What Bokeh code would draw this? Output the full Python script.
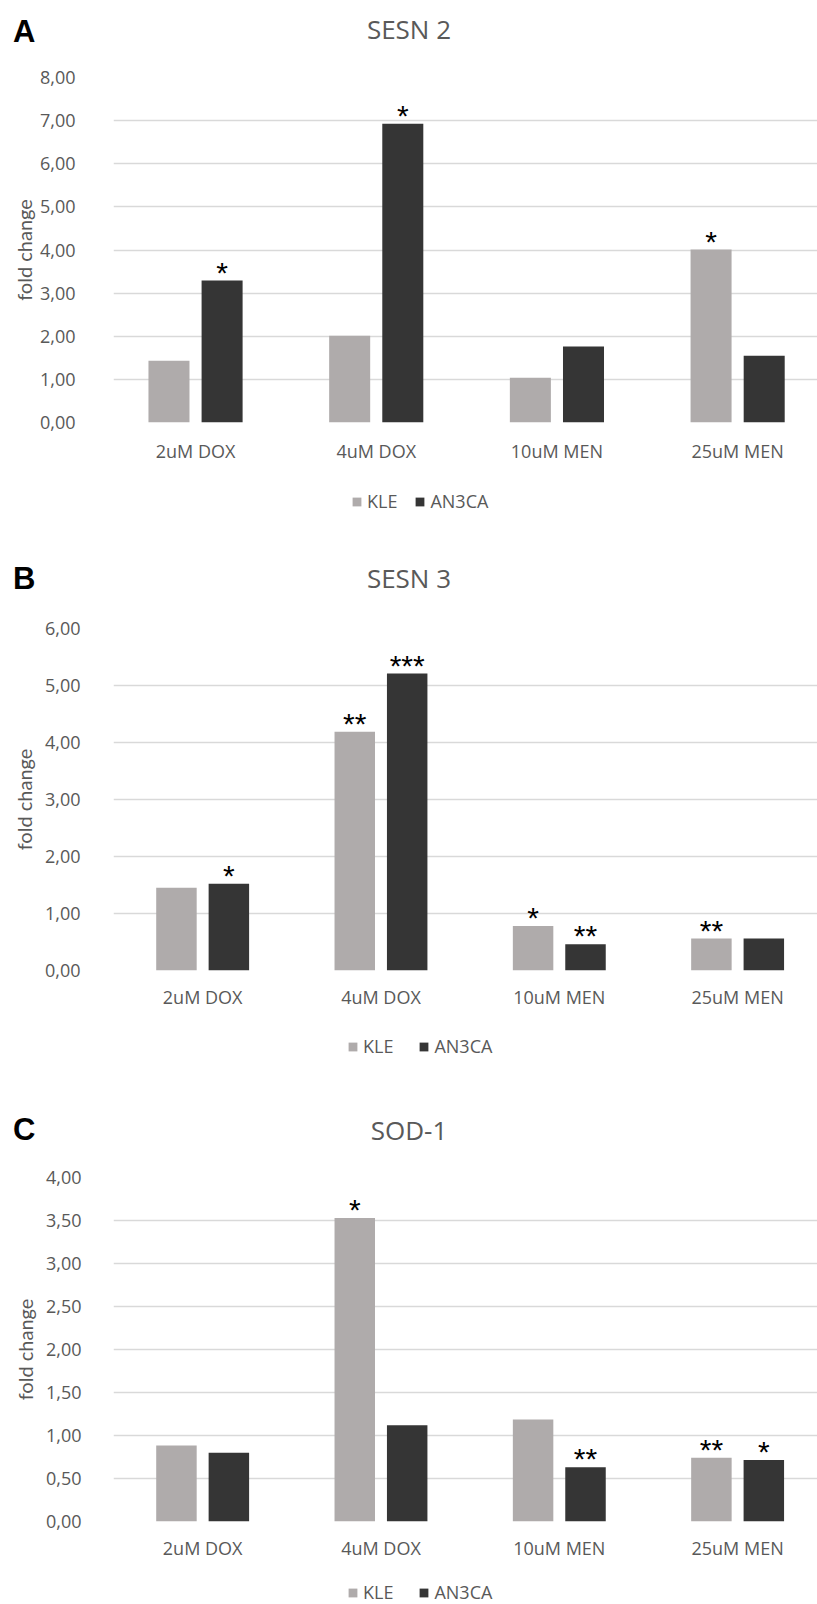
import numpy as np
from bokeh.plotting import figure
from bokeh.models import ColumnDataSource, Range1d, FixedTicker, Legend, LegendItem, Div
from bokeh.layouts import column
from bokeh.embed import file_html
from bokeh.resources import INLINE
from bokeh.core.properties import value

# ---------------- data ----------------
categories = ["2uM DOX", "4uM DOX", "10uM MEN", "25uM MEN"]
series = ["KLE", "AN3CA"]

sesn2_kle = [1.43, 2.01, 1.04, 4.01]
sesn2_an3ca = [3.29, 6.93, 1.76, 1.55]
sesn2_kle_sig = ["", "", "", "*"]
sesn2_an3ca_sig = ["*", "*", "", ""]
sesn2_ticks = [0, 1, 2, 3, 4, 5, 6, 7, 8]
sesn2_tick_labels = ["0,00", "1,00", "2,00", "3,00", "4,00", "5,00", "6,00", "7,00", "8,00"]

sesn3_kle = [1.45, 4.19, 0.78, 0.56]
sesn3_an3ca = [1.52, 5.21, 0.46, 0.56]
sesn3_kle_sig = ["", "**", "*", "**"]
sesn3_an3ca_sig = ["*", "***", "**", ""]
sesn3_ticks = [0, 1, 2, 3, 4, 5, 6]
sesn3_tick_labels = ["0,00", "1,00", "2,00", "3,00", "4,00", "5,00", "6,00"]

sod1_kle = [0.885, 3.53, 1.185, 0.74]
sod1_an3ca = [0.80, 1.12, 0.63, 0.715]
sod1_kle_sig = ["", "*", "", "**"]
sod1_an3ca_sig = ["", "", "**", "*"]
sod1_ticks = [0, 0.5, 1, 1.5, 2, 2.5, 3, 3.5, 4]
sod1_tick_labels = ["0,00", "0,50", "1,00", "1,50", "2,00", "2,50", "3,00", "3,50", "4,00"]

KLE_COLOR = "#AFABAB"
AN3CA_COLOR = "#353535"
TEXT_GREY = "#595959"
GRID_GREY = "#D9D9D9"
TICK_FONT = "Open Sans"
COLORS = [KLE_COLOR, AN3CA_COLOR]

BAR_W = 0.227
OFFSET = 0.147
FIG_W = 817
BORDER_TOP = 16
BORDER_BOTTOM = 60
BORDER_LEFT = 113   # frames of all plots in the column share this left edge


def header(letter, title, height, letter_top, title_top):
    html = (
        f'<div style="position:relative;width:{FIG_W}px;height:{height}px;overflow:hidden;">'
        f'<span style="position:absolute;left:13px;top:{letter_top}px;'
        f"font-family:'Liberation Sans';font-weight:bold;font-size:31px;"
        f'line-height:1;color:#000000;">{letter}</span>'
        f'<span style="position:absolute;left:0px;top:{title_top}px;width:818px;'
        f"text-align:center;font-family:'Open Sans';font-size:26px;line-height:1;"
        f'color:{TEXT_GREY};white-space:nowrap;">{title}</span>'
        '</div>')
    return Div(text=html, width=FIG_W, height=height, margin=(0, 0, 0, 0))


def panel(kle, an3, kle_sig, an3_sig, ticks, tick_labels, ymax,
          plot_px, x_start, x_end, ystandoff, label_standoff, xstandoff):
    height = BORDER_TOP + plot_px + BORDER_BOTTOM
    p = figure(width=FIG_W, height=height, output_backend="svg", toolbar_location=None,
               tools="", x_range=Range1d(x_start, x_end), y_range=Range1d(0, ymax),
               min_border_top=BORDER_TOP, min_border_bottom=BORDER_BOTTOM,
               min_border_left=BORDER_LEFT, min_border_right=0, margin=(0, 0, 0, 0))
    p.outline_line_color = None
    p.background_fill_color = "white"
    p.border_fill_color = "white"

    idx = np.arange(len(categories))
    src = ColumnDataSource(dict(
        xk=idx - OFFSET, xa=idx + OFFSET, kle=kle, an3=an3,
        ks=kle_sig, as_=an3_sig))

    p.vbar(x="xk", top="kle", bottom=0, width=BAR_W, source=src,
           fill_color=KLE_COLOR, line_color=None)
    p.vbar(x="xa", top="an3", bottom=0, width=BAR_W, source=src,
           fill_color=AN3CA_COLOR, line_color=None)

    for xcol, ycol, tcol in (("xk", "kle", "ks"), ("xa", "an3", "as_")):
        p.text(x=xcol, y=ycol, text=tcol, source=src,
               text_font=value("Liberation Sans"), text_font_size="30px",
               text_color="black", text_align="center",
               text_baseline="alphabetic", y_offset=-8.5)

    # y axis
    yax = p.yaxis[0]
    yax.ticker = FixedTicker(ticks=ticks)
    yax.major_label_overrides = {t: l for t, l in zip(ticks, tick_labels)}
    yax.axis_line_color = None
    yax.major_tick_line_color = None
    yax.minor_tick_line_color = None
    yax.major_label_standoff = ystandoff
    yax.major_label_text_font = TICK_FONT
    yax.major_label_text_font_size = "18px"
    yax.major_label_text_color = TEXT_GREY
    yax.axis_label = "fold change"
    yax.axis_label_text_font = "Lato"
    yax.axis_label_text_font_size = "20px"
    yax.axis_label_text_font_style = "normal"
    yax.axis_label_text_color = TEXT_GREY
    yax.axis_label_standoff = label_standoff

    # x axis
    xax = p.xaxis[0]
    xax.ticker = FixedTicker(ticks=[int(i) for i in idx])
    xax.major_label_overrides = {int(i): c for i, c in zip(idx, categories)}
    xax.axis_line_color = None
    xax.major_tick_line_color = None
    xax.minor_tick_line_color = None
    xax.major_label_standoff = xstandoff
    xax.major_label_text_font = TICK_FONT
    xax.major_label_text_font_size = "18px"
    xax.major_label_text_color = TEXT_GREY

    p.xgrid.visible = False
    p.ygrid.grid_line_color = GRID_GREY
    p.ygrid.grid_line_width = 1.6
    return p


def legend_strip(height, legend_x, legend_y, spacing):
    q = figure(width=FIG_W, height=height, output_backend="svg", toolbar_location=None,
               tools="", x_range=Range1d(0, 1), y_range=Range1d(0, 1),
               x_axis_location=None, y_axis_location=None,
               min_border_top=0, min_border_bottom=0, min_border_left=BORDER_LEFT,
               min_border_right=0, margin=(0, 0, 0, 0))
    q.outline_line_color = None
    q.xgrid.visible = False
    q.ygrid.visible = False
    items = []
    for name, col in zip(series, COLORS):
        r = q.vbar(x=[-5], top=[0], bottom=0, width=0.1, fill_color=col, line_color=None)
        items.append(LegendItem(label=name, renderers=[r]))
    legend = Legend(items=items, orientation="horizontal", location=(legend_x, legend_y),
                    glyph_width=11, glyph_height=11, label_standoff=5, spacing=spacing,
                    padding=0, margin=0, border_line_color=None,
                    background_fill_alpha=0, label_text_font=TICK_FONT,
                    label_text_font_size="18px", label_text_color=TEXT_GREY)
    q.add_layout(legend)
    return q


hA = header("A", "SESN 2", 61, 15.8, 15.9)
pA = panel(sesn2_kle, sesn2_an3ca, sesn2_kle_sig, sesn2_an3ca_sig,
           sesn2_ticks, sesn2_tick_labels, 8,
           plot_px=345, x_start=-0.454, x_end=3.442,
           ystandoff=32, label_standoff=1, xstandoff=10)
lA = legend_strip(66, 238, 35, 17)

hB = header("B", "SESN 3", 64, 14.8, 16.9)
pB = panel(sesn3_kle, sesn3_an3ca, sesn3_kle_sig, sesn3_an3ca_sig,
           sesn3_ticks, sesn3_tick_labels, 6,
           plot_px=342, x_start=-0.5, x_end=3.448,
           ystandoff=27, label_standoff=6, xstandoff=8)
lB = legend_strip(62, 234, 34, 25)

hC = header("C", "SOD-1", 69, 21.8, 24.9)
pC = panel(sod1_kle, sod1_an3ca, sod1_kle_sig, sod1_an3ca_sig,
           sod1_ticks, sod1_tick_labels, 4,
           plot_px=344, x_start=-0.5, x_end=3.448,
           ystandoff=26, label_standoff=6, xstandoff=8)
lC = legend_strip(23, 234, 0, 25)

layout = column(hA, pA, lA, hB, pB, lB, hC, pC, lC, spacing=0)
open("out.html", "w").write(file_html(layout, INLINE))
